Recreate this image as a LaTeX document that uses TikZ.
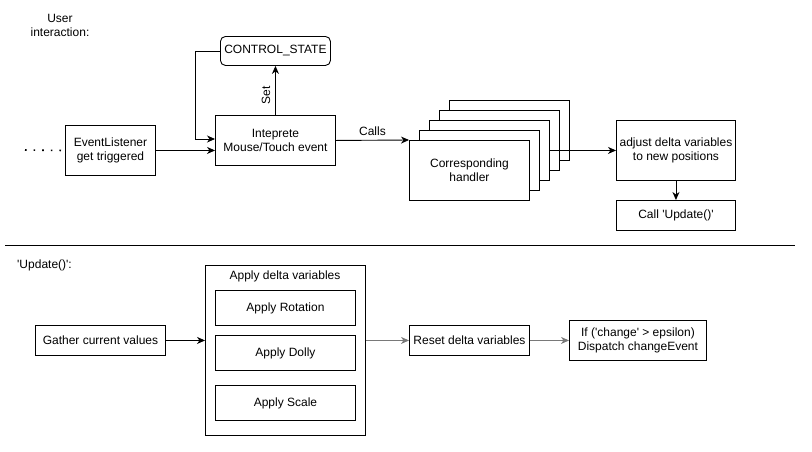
\documentclass[tikz,border=0pt]{standalone}
\usepackage{fontspec}
\setmainfont{Liberation Sans}[Ligatures=TeXOff]
\usetikzlibrary{arrows.meta,positioning,calc}
\begin{document}
\begin{tikzpicture}[x=1pt,y=-1pt,
  every node/.style={font=\fontsize{12}{14}\selectfont},
  box/.style={draw,line width=0.9pt,fill=white,inner sep=0pt,align=center,anchor=north west},
  arr/.style={draw,line width=0.9pt,-{Stealth[length=8pt,width=7pt,inset=2.5pt]}},
  garr/.style={arr,draw=gray!95!black},
  lbl/.style={inner sep=0pt,align=center}]
\useasboundingbox (0,0) rectangle (812,451);
% top section
\node[lbl] (ui) at (60,25) {User\\interaction:};
\node[box,rounded corners=5pt,minimum width=110pt,minimum height=29pt] (cs) at (220,36) {CONTROL\_STATE};
\node[box,minimum width=90pt,minimum height=50pt] (el) at (65,125) {EventListener\\get triggered};
\node[box,minimum width=120pt,minimum height=50pt] (ip) at (215,115) {Inteprete\\Mouse/Touch event};
\node[box,minimum width=120pt,minimum height=60pt] (h5) at (449,100) {};
\node[box,minimum width=120pt,minimum height=60pt] (h4) at (439,110) {};
\node[box,minimum width=120pt,minimum height=60pt] (h3) at (429,120) {};
\node[box,minimum width=120pt,minimum height=60pt] (h2) at (419,130) {};
\node[box,minimum width=120pt,minimum height=60pt] (h1) at (409,140) {Corresponding\\handler};
\node[box,minimum width=119pt,minimum height=60pt] (adj) at (616,120) {adjust delta variables\\to new positions};
\node[box,minimum width=119pt,minimum height=30pt] (call) at (616,200) {Call 'Update()'};
\coordinate (dots) at (25,150);
\coordinate (k) at (195,139);
\draw[line width=1.6pt,dash pattern=on 1.6pt off 7pt] (dots) -- ([xshift=-4pt]el.west);
\draw[arr] (el.east) -- (ip.west |- el.east);
\draw[arr] (cs.west) -| (k) -- (ip.west |- k);
\draw[arr] (ip.north) -- (cs.south);
\node[lbl,rotate=90] (set) at (266,95) {Set};
\draw[arr] (ip.east) -- node[lbl,above=4pt] (calls) {Calls} (h1.north west);
\draw[arr] (h3.east) -- (adj.west);
\draw[arr] (adj.south) -- (call.north);
% separator
\coordinate (s1) at (5,245);
\coordinate (s2) at (795,245);
\draw[line width=0.9pt] (s1) -- (s2);
% bottom section
\node[lbl,anchor=west] (up) at (17,265) {'Update()':};
\node[box,minimum width=130pt,minimum height=30pt] (g) at (35,325) {Gather current values};
\node[box,minimum width=160pt,minimum height=170pt] (ad) at (205,265) {};
\node[lbl] (adt) at (285,276) {Apply delta variables};
\node[box,minimum width=140pt,minimum height=35pt] (rot) at (215,290) {Apply Rotation};
\node[box,minimum width=140pt,minimum height=35pt] (dol) at (215,335) {Apply Dolly};
\node[box,minimum width=140pt,minimum height=35pt] (sca) at (215,385) {Apply Scale};
\node[box,minimum width=120pt,minimum height=30pt] (res) at (409,325) {Reset delta variables};
\node[box,minimum width=137pt,minimum height=40pt] (if) at (569,320) {If ('change' > epsilon)\\Dispatch changeEvent};
\draw[arr] (g.east) -- (ad.west |- g.east);
\draw[garr] (ad.east |- res.west) -- (res.west);
\draw[garr] (res.east) -- (if.west);
\end{tikzpicture}
\end{document}
